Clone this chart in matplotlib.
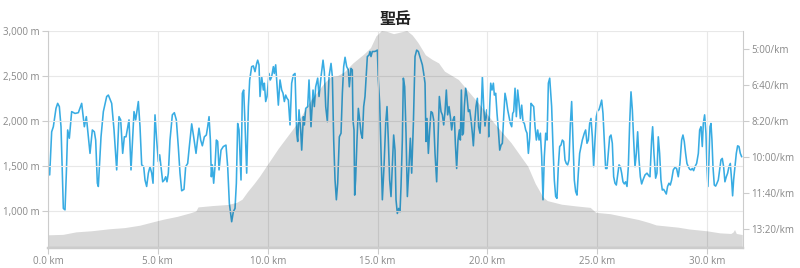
import matplotlib
matplotlib.use("Agg")
import matplotlib.pyplot as plt
from matplotlib.ticker import FuncFormatter, FixedLocator

plt.rcParams['font.family'] = ['Open Sans', 'DejaVu Sans']

title = "聖岳"

elev_km = [0, 0.7, 1.3, 2.0, 2.8, 3.5, 4.2, 4.9, 5.3, 5.9, 6.5, 6.75, 6.85, 7.5, 8.2, 8.6, 8.85,
           9.1, 9.4, 9.65, 10.5, 11.3, 12.0, 12.6, 12.9, 13.2, 13.5, 13.9, 14.4, 14.7, 14.95,
           15.2, 15.45, 15.75, 16.1, 16.35, 16.6, 16.85, 17.2, 17.5, 17.8, 18.07, 18.4, 18.7,
           19.6, 20.3, 21.1, 21.86, 22.2, 22.55, 22.75, 23.4, 24.1, 24.7, 24.95, 25.6, 26.3,
           26.9, 27.4, 27.7, 28.7, 29.2, 30.0, 30.6, 31.1, 31.2, 31.27, 31.35, 31.62]
elev_m = [730, 735, 763, 775, 797, 810, 837, 881, 905, 935, 975, 995, 1040, 1055, 1067, 1090, 1125,
          1210, 1300, 1381, 1690, 1950, 2233, 2420, 2490, 2500, 2540, 2640, 2740, 2810, 2940,
          3000, 2990, 2965, 2985, 3000, 2950, 2870, 2730, 2680, 2640, 2548, 2500, 2456,
          2197, 1980, 1753, 1492, 1300, 1150, 1110, 1070, 1050, 1035, 980, 965, 930,
          900, 865, 840, 815, 795, 775, 752, 745, 760, 789, 745, 733]

pace_km = [0.015, 0.076, 0.167, 0.243, 0.364, 0.44, 0.516, 0.592, 0.652, 0.698, 0.774, 0.835, 0.895,
           0.971, 1.077, 1.229, 1.381, 1.533, 1.654, 1.745, 1.836, 1.912, 2.018, 2.109, 2.17, 2.246,
           2.291, 2.413, 2.519, 2.671, 2.747, 2.898, 3.005, 3.126, 3.232, 3.308, 3.399, 3.475, 3.551,
           3.687, 3.778, 3.915, 3.991, 4.112, 4.188, 4.264, 4.355,
           4.415, 4.49, 4.567, 4.643, 4.72, 4.78, 4.87, 4.946, 5.022, 5.083, 5.143, 5.22, 5.295, 5.356,
           5.416, 5.477, 5.553, 5.659, 5.75, 5.841, 5.93, 6.008, 6.084, 6.19, 6.266, 6.357, 6.433,
           6.54, 6.63, 6.69, 6.737, 6.797, 6.873, 6.949, 7.025, 7.116, 7.207, 7.268, 7.33, 7.39,
           7.435, 7.48, 7.54, 7.6, 7.662, 7.723, 7.784, 7.875, 7.98, 8.1, 8.178, 8.254, 8.36, 8.436,
           8.512, 8.573, 8.633, 8.694, 8.785, 8.846, 8.906, 8.967, 9.043, 9.12, 9.18,
           9.27, 9.346, 9.422, 9.498, 9.544, 9.604, 9.65, 9.726, 9.802, 9.847, 9.908, 9.969, 10.06,
           10.12, 10.18, 10.257, 10.3, 10.363, 10.41, 10.484, 10.56, 10.636, 10.697, 10.758, 10.818,
           10.879, 10.94, 11.016, 11.09, 11.167, 11.243, 11.319, 11.365, 11.425, 11.5, 11.547,
           11.623, 11.668, 11.729, 11.82, 11.88, 11.97, 12.063, 12.123, 12.184, 12.275, 12.336,
           12.427, 12.518, 12.578, 12.64, 12.715, 12.79, 12.882, 12.943, 13.003, 13.064, 13.125,
           13.185, 13.26, 13.337, 13.398, 13.458, 13.52,
           13.594, 13.67, 13.715, 13.79, 13.85, 13.88, 13.928, 13.958, 14.0, 14.064, 14.125, 14.186,
           14.246, 14.307, 14.368, 14.428, 14.49, 14.535, 14.61, 14.656, 14.7, 14.762, 14.853,
           14.914, 14.99, 15.035, 15.096, 15.157, 15.218, 15.293, 15.37, 15.43, 15.49, 15.55,
           15.612, 15.673, 15.733, 15.794, 15.84, 15.9, 15.961, 16.022, 16.067, 16.128, 16.174,
           16.234, 16.295, 16.356, 16.43, 16.492, 16.553, 16.63, 16.705, 16.78, 16.856, 16.947,
           17.038, 17.1, 17.16, 17.205, 17.25, 17.312, 17.372, 17.433, 17.494, 17.554, 17.615,
           17.69, 17.767, 17.812, 17.888, 17.95, 18.01, 18.07,
           18.13, 18.19, 18.252, 18.313, 18.373, 18.434, 18.495, 18.54, 18.6, 18.662, 18.722,
           18.768, 18.814, 18.86, 18.905, 18.95, 19.01, 19.07, 19.132, 19.193, 19.254, 19.314,
           19.36, 19.42, 19.48, 19.542, 19.6, 19.663, 19.724, 19.77, 19.83, 19.89, 19.967, 20.012,
           20.058, 20.103, 20.15, 20.21, 20.27, 20.316, 20.377, 20.437, 20.498, 20.56, 20.62, 20.68,
           20.74, 20.8, 20.862, 20.923, 20.983, 21.044, 21.105, 21.15, 21.196, 21.257, 21.317,
           21.378, 21.44, 21.5, 21.56, 21.62, 21.68, 21.742, 21.803, 21.864, 21.924, 21.985, 22.046,
           22.106, 22.167, 22.228, 22.288, 22.35, 22.41, 22.47, 22.53, 22.59, 22.653, 22.713,
           22.774, 22.835,
           22.923, 22.984, 23.045, 23.106, 23.166, 23.227, 23.288, 23.348, 23.41, 23.47, 23.53,
           23.59, 23.652, 23.713, 23.773, 23.834, 23.895, 23.955, 24.016, 24.077, 24.137, 24.198,
           24.26, 24.32, 24.41, 24.47, 24.532, 24.593, 24.653, 24.714, 24.775, 24.835, 24.896,
           24.957, 25.018, 25.078, 25.14, 25.2, 25.26, 25.32, 25.38, 25.443, 25.503, 25.564, 25.625,
           25.685, 25.746, 25.807, 25.867, 25.928, 25.99, 26.05, 26.11, 26.17, 26.232, 26.292,
           26.353, 26.414, 26.474, 26.535, 26.596, 26.656, 26.717, 26.778, 26.838, 26.9, 26.96,
           27.02, 27.08, 27.172, 27.263, 27.355,
           27.398, 27.473, 27.52, 27.58, 27.656, 27.716, 27.777, 27.838, 27.898, 27.96, 28.02, 28.08,
           28.141, 28.2, 28.263, 28.323, 28.384, 28.46, 28.536, 28.61, 28.687, 28.763, 28.84, 28.9,
           28.96, 29.02, 29.082, 29.143, 29.203, 29.264, 29.325, 29.385, 29.446, 29.522, 29.6,
           29.66, 29.72, 29.78, 29.826, 29.886, 29.947, 29.992, 30.038, 30.083, 30.13, 30.175,
           30.22, 30.266, 30.326, 30.387, 30.448, 30.508, 30.569, 30.63, 30.69, 30.75, 30.81,
           30.873, 30.933, 30.994, 31.055, 31.115, 31.16, 31.206, 31.267, 31.328, 31.388, 31.45,
           31.51, 31.57]
pace_s = [622, 650, 530, 516, 465, 451, 460, 516, 645, 743, 747, 645, 525,
          548, 474, 479, 477, 451, 516, 488, 544, 590, 525, 530, 553, 673,
          682, 544, 474, 432, 428, 451, 525, 636, 488, 497, 590, 544, 544,
          497, 636, 474, 497, 446, 516, 622, 627,
          664, 682, 645, 627, 645, 673, 483, 553, 613, 594, 627, 669, 664, 655,
          669, 645, 553, 483, 477, 497, 571, 645, 694, 690, 627, 618, 571,
          508, 544, 571, 590, 557, 520, 553, 569, 544, 539, 516, 488, 553,
          655, 622, 673, 627, 553, 557, 636, 581, 571, 567, 627, 729, 780, 752,
          743, 673, 507, 525, 664, 423, 414, 507, 645, 460, 386,
          349, 347, 363, 340, 331, 344, 432, 377, 414, 395, 446, 432, 368,
          386, 377, 349, 368, 344, 386, 456, 386, 414, 423, 446, 428,
          437, 442, 511, 395, 372, 368, 534, 557, 469, 525, 581,
          488, 511, 465, 460, 386, 516, 414, 460, 405, 381, 432,
          377, 331, 363, 460, 502, 377, 340, 377, 553, 664, 719,
          673, 544, 534, 423, 349, 323,
          349, 358, 405, 354, 358, 497, 525, 706, 664, 553, 465, 497,
          534, 548, 460, 432, 368, 321, 317, 307, 321, 307, 307,
          306, 303, 386, 451, 590, 719, 627, 507, 460, 553, 664,
          710, 627, 539, 581, 719, 757, 743, 752, 682, 553, 381,
          405, 534, 710, 627, 548, 645, 507, 321, 303, 307, 326,
          344, 368, 395, 557, 493, 590, 525, 474, 477, 497, 590,
          669, 516, 432, 474, 483, 511, 474,
          414, 483, 460, 488, 525, 497, 488, 562, 632, 553, 525,
          553, 414, 539, 534, 460, 409, 432, 474, 469, 497, 534,
          569, 507, 460, 437, 516, 534, 460, 377, 460, 514, 469, 497,
          544, 460, 395, 414, 395, 428, 423, 479, 525, 581, 567, 562,
          488, 423, 442, 469, 488, 507, 516, 479, 474, 409, 488,
          414, 451, 493, 456, 502, 507, 525, 534, 590, 548, 451, 456,
          460, 516, 553, 525, 553, 534, 599, 719, 599, 534, 553,
          395, 381,
          460, 571, 664, 710, 715, 627, 571, 567, 553, 557, 608,
          618, 622, 608, 511, 446, 553, 664, 696, 706, 645, 590,
          571, 553, 534, 525, 562, 553, 507, 493, 544, 627, 553,
          488, 471, 469, 456, 442, 479, 553, 632, 632, 590, 544, 539,
          562, 655, 673, 678, 650, 622, 627, 645, 669, 675, 669,
          682, 627, 507, 419, 469, 553, 627, 590, 530, 608, 655,
          675, 664, 650, 645, 653,
          655, 553, 516, 590, 659, 645, 544, 590, 664, 692, 690, 696,
          703, 682, 673, 678, 664, 636, 629, 632, 655, 618, 553, 539,
          557, 590, 618, 627, 634, 636, 632, 638, 627, 618, 590,
          525, 516, 571, 507, 483, 534, 627, 682, 608, 516, 507,
          553, 627, 678, 681, 673, 664, 636, 608, 604, 627, 669,
          655, 645, 627, 618, 664, 708, 664, 627, 590, 569, 571,
          590, 599]

x_ticks = [0, 5, 10, 15, 20, 25, 30]
elev_ticks = [1000, 1500, 2000, 2500, 3000]
pace_ticks = [300, 400, 500, 600, 700, 800]

fig = plt.figure(figsize=(8, 2.68), dpi=100)
ax = fig.add_axes([0.06, 0.0746, 0.8684, 0.8097])
ax2 = ax.twinx()

ax.set_zorder(2)
ax2.set_zorder(1)
ax.patch.set_visible(False)
ax2.patch.set_facecolor('white')

ax.fill_between(elev_km, elev_m, 0, color='black', alpha=0.15, linewidth=0, zorder=2)
ax2.plot(pace_km, pace_s, color='#38ace3', linewidth=1.15, zorder=3)

ax.set_xlim(0, 31.62)
ax.set_ylim(589, 3000)
ax2.set_ylim(853, 250)

grid_c = '#e8e8e8'
ax.xaxis.set_major_locator(FixedLocator(x_ticks))
ax.yaxis.set_major_locator(FixedLocator(elev_ticks))
ax2.yaxis.set_major_locator(FixedLocator(pace_ticks))
ax.grid(True, color=grid_c, linewidth=0.8, zorder=1)
ax.set_axisbelow(True)

ax.xaxis.set_major_formatter(FuncFormatter(lambda v, p: f"{v:.1f} km"))
ax.yaxis.set_major_formatter(FuncFormatter(lambda v, p: f"{v:,.0f} m"))
ax2.yaxis.set_major_formatter(FuncFormatter(lambda v, p: f"{int(v)//60}:{int(v)%60:02d}/km"))

lab_c = '#888888'
spine_c = '#cccccc'
for a in (ax, ax2):
    for s in a.spines.values():
        s.set_color(spine_c)
    a.spines['top'].set_visible(False)
    a.tick_params(colors=spine_c, labelcolor=lab_c, labelsize=7, length=4, width=0.8, pad=2)
ax.spines['bottom'].set_linewidth(1.6)
ax2.spines['bottom'].set_linewidth(1.6)
ax.spines['right'].set_visible(False)
ax2.spines['left'].set_visible(False)

ax.set_title(title, fontsize=11.5, fontweight='bold', family=['Noto Sans CJK JP', 'DejaVu Sans'],
             color='#222222', pad=5)

fig.savefig('out.png', dpi=100)
